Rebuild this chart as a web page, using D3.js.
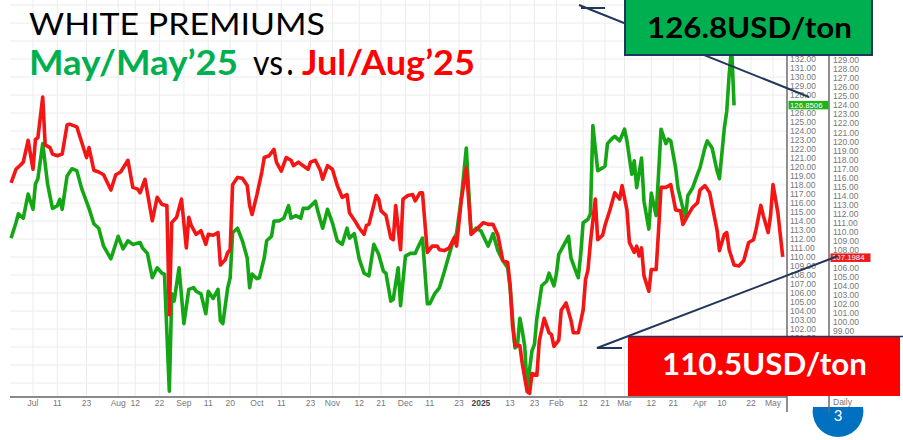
<!DOCTYPE html>
<html>
<head>
<meta charset="utf-8">
<script src="https://cdn.jsdelivr.net/npm/d3@7"></script>
<style>
  html, body { margin: 0; padding: 0; background: #fff; }
  svg { display: block; }
</style>
</head>
<body>
<svg id="chart" width="903" height="440"></svg>
<script>
// Green series: May/May'25 (left price column)
const greenDates = [
  "2024-06-22","2024-06-24","2024-06-25","2024-06-27","2024-06-29","2024-07-01","2024-07-02","2024-07-03","2024-07-05","2024-07-07",
  "2024-07-09","2024-07-11","2024-07-12","2024-07-13","2024-07-15","2024-07-17","2024-07-19","2024-07-21","2024-07-24","2024-07-26",
  "2024-07-28","2024-07-30","2024-08-02","2024-08-05","2024-08-07","2024-08-09","2024-08-11","2024-08-14","2024-08-15","2024-08-17",
  "2024-08-19","2024-08-21","2024-08-23","2024-08-24","2024-08-26","2024-08-27","2024-08-28","2024-08-30","2024-09-01","2024-09-03",
  "2024-09-05","2024-09-06","2024-09-08","2024-09-10","2024-09-11","2024-09-13","2024-09-15","2024-09-16","2024-09-17","2024-09-19",
  "2024-09-20","2024-09-21","2024-09-23","2024-09-25","2024-09-27","2024-09-28","2024-09-29","2024-10-01","2024-10-02","2024-10-04",
  "2024-10-05","2024-10-07","2024-10-08","2024-10-10","2024-10-12","2024-10-14","2024-10-15","2024-10-17","2024-10-19","2024-10-20",
  "2024-10-22","2024-10-24","2024-10-25","2024-10-26","2024-10-28","2024-10-30","2024-11-01","2024-11-03","2024-11-05","2024-11-07",
  "2024-11-08","2024-11-10","2024-11-12","2024-11-14","2024-11-16","2024-11-18","2024-11-20","2024-11-22","2024-11-23","2024-11-25",
  "2024-11-26","2024-11-28","2024-11-29","2024-12-01","2024-12-03","2024-12-05","2024-12-06","2024-12-08","2024-12-10","2024-12-11",
  "2024-12-13","2024-12-15","2024-12-17","2024-12-19","2024-12-21","2024-12-22","2024-12-24","2024-12-26","2024-12-28","2024-12-30",
  "2025-01-01","2025-01-04","2025-01-06","2025-01-08","2025-01-10","2025-01-12","2025-01-13","2025-01-15","2025-01-16","2025-01-17",
  "2025-01-18","2025-01-19","2025-01-20","2025-01-22","2025-01-23","2025-01-24","2025-01-26","2025-01-28","2025-01-29","2025-01-31",
  "2025-02-01","2025-02-02","2025-02-05","2025-02-06","2025-02-07","2025-02-09","2025-02-10","2025-02-11","2025-02-12","2025-02-14",
  "2025-02-15","2025-02-16","2025-02-18","2025-02-20","2025-02-21","2025-02-22","2025-02-24","2025-02-25","2025-02-27","2025-03-01",
  "2025-03-02","2025-03-04","2025-03-05","2025-03-06","2025-03-08","2025-03-09","2025-03-11","2025-03-12","2025-03-14","2025-03-15",
  "2025-03-16","2025-03-18","2025-03-19","2025-03-20","2025-03-22","2025-03-23","2025-03-25","2025-03-26","2025-03-27","2025-03-29",
  "2025-03-31","2025-04-01","2025-04-03","2025-04-04","2025-04-06","2025-04-08","2025-04-09","2025-04-11","2025-04-12","2025-04-13",
  "2025-04-14","2025-04-15"
];
const greenValues = [
  112.1,113.8,114.8,114.3,117.0,115.3,118.1,118.7,122.6,118.1,
  115.4,115.7,116.4,115.3,119.0,119.8,119.6,117.6,115.4,113.7,
  113.2,111.2,109.8,112.3,110.9,111.8,111.4,111.6,111.0,110.4,
  107.7,108.8,108.2,108.1,95.1,105.9,105.1,108.8,102.6,106.4,
  106.6,106.2,105.9,103.7,106.2,105.4,106.4,102.9,102.6,106.6,
  107.7,112.7,113.2,111.8,109.9,106.6,108.1,107.6,107.7,109.9,
  111.8,112.3,114.0,114.0,114.3,115.7,114.3,114.6,114.3,115.4,
  115.4,115.9,116.2,115.1,113.2,115.3,113.8,111.8,111.4,113.2,
  112.1,112.6,109.8,108.2,107.9,111.4,110.3,108.4,108.2,105.1,
  105.3,108.8,104.6,110.1,110.4,110.4,111.0,112.1,104.8,104.8,
  105.9,106.6,108.4,110.3,112.1,112.6,116.6,122.1,112.6,113.2,
  112.9,111.2,112.6,110.7,109.6,108.8,106.6,99.9,100.1,103.2,
  101.8,100.1,95.4,99.6,100.3,103.2,106.8,107.3,108.2,106.8,
  108.1,110.3,111.8,112.3,109.9,108.4,107.7,110.3,113.8,114.2,
  114.8,124.6,119.6,119.9,120.1,122.6,123.2,123.4,122.9,124.2,
  122.9,119.2,120.7,117.7,121.0,116.2,113.1,117.1,114.6,119.3,
  124.2,122.6,123.1,122.9,119.9,117.6,115.4,114.3,116.8,117.7,
  119.2,119.9,122.1,122.9,122.1,119.6,118.7,124.3,126.2,130.3,
  133.4,126.85
];

// Red series: Jul/Aug'25 (right price column)
const redDates = [
  "2024-06-22","2024-06-24","2024-06-26","2024-06-27","2024-06-29","2024-07-01","2024-07-02","2024-07-03","2024-07-05","2024-07-06",
  "2024-07-08","2024-07-09","2024-07-11","2024-07-13","2024-07-15","2024-07-16","2024-07-19","2024-07-21","2024-07-23","2024-07-24",
  "2024-07-26","2024-07-28","2024-07-30","2024-08-02","2024-08-04","2024-08-06","2024-08-09","2024-08-11","2024-08-13","2024-08-14",
  "2024-08-16","2024-08-17","2024-08-19","2024-08-21","2024-08-23","2024-08-25","2024-08-26","2024-08-27","2024-08-29","2024-08-31",
  "2024-09-02","2024-09-03","2024-09-04","2024-09-06","2024-09-08","2024-09-10","2024-09-11","2024-09-13","2024-09-15","2024-09-16",
  "2024-09-18","2024-09-19","2024-09-20","2024-09-21","2024-09-23","2024-09-25","2024-09-27","2024-09-28","2024-09-29","2024-10-01",
  "2024-10-03","2024-10-04","2024-10-06","2024-10-08","2024-10-09","2024-10-11","2024-10-13","2024-10-15","2024-10-16","2024-10-18",
  "2024-10-20","2024-10-22","2024-10-23","2024-10-25","2024-10-27","2024-10-28","2024-10-30","2024-11-01","2024-11-03","2024-11-05",
  "2024-11-07","2024-11-08","2024-11-10","2024-11-12","2024-11-14","2024-11-15","2024-11-16","2024-11-19","2024-11-20","2024-11-21",
  "2024-11-23","2024-11-25","2024-11-26","2024-11-27","2024-11-29","2024-11-30","2024-12-02","2024-12-04","2024-12-05","2024-12-07",
  "2024-12-08","2024-12-10","2024-12-12","2024-12-14","2024-12-15","2024-12-17","2024-12-19","2024-12-21","2024-12-22","2024-12-24",
  "2024-12-26","2024-12-28","2024-12-30","2025-01-02","2025-01-04","2025-01-06","2025-01-08","2025-01-10","2025-01-12","2025-01-13",
  "2025-01-14","2025-01-15","2025-01-17","2025-01-18","2025-01-20","2025-01-21","2025-01-22","2025-01-24","2025-01-25","2025-01-27",
  "2025-01-29","2025-01-30","2025-01-31","2025-02-02","2025-02-03","2025-02-05","2025-02-07","2025-02-08","2025-02-10","2025-02-12",
  "2025-02-13","2025-02-14","2025-02-15","2025-02-17","2025-02-18","2025-02-20","2025-02-21","2025-02-23","2025-02-25","2025-02-27",
  "2025-02-28","2025-03-02","2025-03-03","2025-03-05","2025-03-06","2025-03-07","2025-03-08","2025-03-09","2025-03-11","2025-03-12",
  "2025-03-14","2025-03-15","2025-03-16","2025-03-18","2025-03-20","2025-03-22","2025-03-24","2025-03-25","2025-03-27","2025-03-29",
  "2025-03-31","2025-04-01","2025-04-03","2025-04-05","2025-04-06","2025-04-08","2025-04-09","2025-04-11","2025-04-12","2025-04-13",
  "2025-04-15","2025-04-17","2025-04-19","2025-04-21","2025-04-23","2025-04-24","2025-04-26","2025-04-27","2025-04-29","2025-04-30",
  "2025-05-01","2025-05-03","2025-05-05"
];
const redValues = [
  115.4,116.9,117.4,117.7,120.1,116.9,120.2,120.4,124.9,119.6,
  119.3,118.6,118.4,118.6,121.8,121.9,121.6,119.9,118.2,119.3,
  116.8,116.6,116.3,114.6,116.3,116.6,117.9,114.9,114.7,114.3,
  115.8,114.3,111.2,113.8,113.0,112.9,100.8,111.0,111.6,113.6,
  108.2,111.6,110.7,109.7,110.1,108.6,109.7,109.6,109.9,106.3,
  106.9,107.7,108.0,115.2,116.0,115.9,115.1,112.9,111.9,114.1,
  116.6,118.2,118.4,119.1,117.7,116.7,118.2,117.9,117.3,117.7,
  117.3,116.9,117.7,117.9,116.8,115.8,117.3,116.9,115.1,113.8,
  114.1,112.1,111.3,110.4,109.7,110.7,110.8,114.0,113.6,112.3,
  111.8,109.3,109.1,112.9,108.0,113.6,114.0,114.1,113.4,114.3,
  114.3,107.7,108.4,108.4,108.0,107.9,108.2,109.3,108.4,113.6,
  117.1,109.7,110.2,111.0,110.8,110.8,109.6,106.8,106.6,104.1,
  99.6,97.4,97.4,95.4,92.3,92.1,94.3,94.1,97.9,100.4,
  98.8,98.6,97.3,98.0,101.3,102.1,100.2,98.8,98.8,101.3,
  104.7,105.8,108.8,113.6,109.1,109.6,110.7,112.4,114.3,113.6,
  115.1,112.4,108.8,107.7,108.4,107.3,108.2,105.1,103.4,105.8,
  105.8,110.2,114.9,114.9,115.2,112.4,112.3,110.8,111.8,112.7,
  113.2,114.6,115.1,114.3,112.9,110.2,107.9,109.7,109.9,108.0,
  106.3,106.2,106.8,108.8,109.1,110.2,112.9,111.8,109.9,111.8,
  115.2,112.1,107.2
];

// Bottom time axis
const tickDates = [
  "2024-07-01","2024-07-11","2024-07-23","2024-08-05","2024-08-12","2024-08-22","2024-09-01","2024-09-11","2024-09-20",
  "2024-10-01","2024-10-11","2024-10-23","2024-11-01","2024-11-12","2024-11-21","2024-12-01","2024-12-11","2024-12-23",
  "2025-01-01","2025-01-13","2025-01-23","2025-02-01","2025-02-12","2025-02-21","2025-03-01","2025-03-12","2025-03-21",
  "2025-04-01","2025-04-10","2025-04-22","2025-05-01"
];
const tickLabels = [
  "Jul","11","23","Aug","12","22","Sep","11","20",
  "Oct","11","23","Nov","12","21","Dec","11","23",
  "2025","13","23","Feb","12","21","Mar","12","21",
  "Apr","10","22","May"
];

// Price columns on the right (values hidden under the last-value tags are left out)
const greenAxisTicks = [101,102,103,104,105,106,107,108,109,110,111,112,113,114,115,116,117,118,119,120,121,122,123,124,125,126,128,129,130,131,132];
const redAxisTicks = [99,100,101,102,103,104,105,106,108,109,110,111,112,113,114,115,116,117,118,119,120,121,122,123,124,125,126,127,128,129];
const greenLast = 126.8506;
const redLast = 107.1984;
const greenCallout = "126.8USD/ton";
const redCallout = "110.5USD/ton";

const GREEN = '#15a615';
const RED = '#f41515';
const NAVY = '#22365c';

const parse = d3.timeParse('%Y-%m-%d');
const svg = d3.select('#chart');

const x = d3.scaleTime()
  .domain([parse('2024-07-01'), parse('2025-05-01')])
  .range([33, 773]);

const yG = d3.scaleLinear().domain([132, 102]).range([59, 329]);
const yR = d3.scaleLinear().domain([129, 99]).range([60, 331]);

const plotLeft = 10, plotRight = 787, plotBottom = 397;

svg.append('rect').attr('width', 903).attr('height', 440).attr('fill', '#fff');

// Grid lines
const grid = svg.append('g').attr('stroke', '#ececec').attr('stroke-width', 1);
grid.selectAll('.vgrid')
  .data(tickDates)
  .join('line')
  .attr('class', 'vgrid')
  .attr('x1', d => x(parse(d))).attr('x2', d => x(parse(d)))
  .attr('y1', 0).attr('y2', plotBottom);
grid.selectAll('.hgrid')
  .data(d3.range(96, 140, 2))
  .join('line')
  .attr('class', 'hgrid')
  .attr('x1', plotLeft).attr('x2', plotRight)
  .attr('y1', d => yG(d)).attr('y2', d => yG(d));

// Lines
const greenData = greenDates.map((d, i) => ({ date: parse(d), value: greenValues[i] }));
const redData = redDates.map((d, i) => ({ date: parse(d), value: redValues[i] }));

const greenLine = d3.line().x(d => x(d.date)).y(d => yG(d.value));
const redLine = d3.line().x(d => x(d.date)).y(d => yR(d.value));

svg.append('path')
  .datum(greenData)
  .attr('fill', 'none')
  .attr('stroke', GREEN)
  .attr('stroke-width', 3.6)
  .attr('stroke-linejoin', 'round')
  .attr('d', greenLine);

svg.append('path')
  .datum(redData)
  .attr('fill', 'none')
  .attr('stroke', RED)
  .attr('stroke-width', 3.6)
  .attr('stroke-linejoin', 'round')
  .attr('d', redLine);

// Bottom axis
svg.append('line')
  .attr('x1', plotLeft).attr('x2', plotRight)
  .attr('y1', plotBottom).attr('y2', plotBottom)
  .attr('stroke', '#8a8a8a').attr('stroke-width', 2);

svg.append('g')
  .selectAll('text')
  .data(tickDates)
  .join('text')
  .attr('x', d => x(parse(d)))
  .attr('y', 406)
  .attr('text-anchor', 'middle')
  .attr('font-family', 'Liberation Sans, Arial, sans-serif')
  .attr('font-size', 8.5)
  .attr('font-weight', (d, i) => tickLabels[i] === '2025' ? 'bold' : 'normal')
  .attr('fill', (d, i) => tickLabels[i] === '2025' ? '#444' : '#777')
  .text((d, i) => tickLabels[i]);

// Page number badge (partly hidden behind the chart image)
svg.append('circle').attr('cx', 838).attr('cy', 411.6).attr('r', 25.4).attr('fill', '#0070c0');
svg.append('rect').attr('x', 790).attr('y', 330).attr('width', 113).attr('height', 77).attr('fill', '#fff');
svg.append('text')
  .attr('x', 838).attr('y', 421)
  .attr('text-anchor', 'middle')
  .attr('font-family', 'Lato, Carlito, sans-serif')
  .attr('font-size', 15)
  .attr('fill', '#fff')
  .text('3');

// Right price columns
const axisG = svg.append('g')
  .attr('transform', `translate(${plotRight},0)`)
  .call(d3.axisRight(yG).tickValues(greenAxisTicks).tickSize(0).tickPadding(3).tickFormat(d3.format('.2f')));
const axisR = svg.append('g')
  .attr('transform', 'translate(829,0)')
  .call(d3.axisRight(yR).tickValues(redAxisTicks).tickSize(0).tickPadding(4).tickFormat(d3.format('.2f')));
[axisG, axisR].forEach(a => {
  a.select('.domain').remove();
  a.selectAll('text')
    .attr('font-family', 'Liberation Sans, Arial, sans-serif')
    .attr('font-size', 8.5)
    .attr('fill', '#777');
});

svg.append('g')
  .selectAll('line')
  .data([plotRight, 829])
  .join('line')
  .attr('x1', d => d).attr('x2', d => d)
  .attr('y1', 56).attr('y2', 412)
  .attr('stroke', '#6a6a6a').attr('stroke-width', 1.5);

svg.append('text')
  .attr('x', 833).attr('y', 405)
  .attr('font-family', 'Liberation Sans, Arial, sans-serif')
  .attr('font-size', 8.5)
  .attr('fill', '#777')
  .text('Daily');

// Last-value tags
svg.append('rect')
  .attr('x', 788.5).attr('y', yG(greenLast) - 4.5)
  .attr('width', 40).attr('height', 8.5)
  .attr('fill', '#20b020');
svg.append('text')
  .attr('x', 790).attr('y', yG(greenLast) + 2.3)
  .attr('font-family', 'Liberation Sans, Arial, sans-serif')
  .attr('font-size', 7.8).attr('fill', '#fff')
  .text(greenLast.toFixed(4));

svg.append('rect')
  .attr('x', 830.5).attr('y', yR(redLast) - 3.5)
  .attr('width', 40).attr('height', 8.5)
  .attr('fill', '#e81c1c');
svg.append('text')
  .attr('x', 832).attr('y', yR(redLast) + 3.5)
  .attr('font-family', 'Liberation Sans, Arial, sans-serif')
  .attr('font-size', 7.8).attr('fill', '#fff')
  .text(redLast.toFixed(4));

// Title
svg.append('text')
  .attr('x', 29).attr('y', 35)
  .attr('font-family', 'Lato, Carlito, sans-serif')
  .attr('font-size', 30)
  .attr('fill', '#000')
  .attr('textLength', 296).attr('lengthAdjust', 'spacingAndGlyphs')
  .text('WHITE PREMIUMS');

const sub = [
  { t: 'May/May\u201925', x: 29, w: 209, c: '#00b050', b: 'bold' },
  { t: 'vs', x: 253, w: 30, c: '#000', b: 'normal' },
  { t: '.', x: 287, w: 6, c: '#000', b: 'bold' },
  { t: 'Jul/Aug\u201925', x: 302, w: 173, c: '#ff0000', b: 'bold' }
];
svg.append('g')
  .selectAll('text')
  .data(sub)
  .join('text')
  .attr('x', d => d.x).attr('y', 75)
  .attr('font-family', 'Lato, Carlito, sans-serif')
  .attr('font-size', 34)
  .attr('font-weight', d => d.b)
  .attr('fill', d => d.c)
  .attr('textLength', d => d.w).attr('lengthAdjust', 'spacingAndGlyphs')
  .text(d => d.t);

// Connectors
const conn = svg.append('g').attr('stroke', NAVY).attr('stroke-width', 2).attr('fill', 'none');
conn.append('path').attr('d', 'M605,8 L581,8 M579,5 L809,97');
conn.append('path').attr('d', 'M622,348 L597,348 L838,256');

// Callouts
svg.append('rect')
  .attr('x', 625).attr('y', -2).attr('width', 247).attr('height', 57)
  .attr('fill', '#00b050').attr('stroke', NAVY).attr('stroke-width', 2);
svg.append('text')
  .attr('x', 647).attr('y', 38)
  .attr('font-family', 'Lato, Carlito, sans-serif')
  .attr('font-size', 29).attr('font-weight', 'bold').attr('fill', '#000')
  .attr('textLength', 205).attr('lengthAdjust', 'spacingAndGlyphs')
  .text(greenCallout);

svg.append('rect')
  .attr('x', 628).attr('y', 337).attr('width', 272).attr('height', 59)
  .attr('fill', '#ff0000');
svg.append('line')
  .attr('x1', 628).attr('x2', 903).attr('y1', 336.5).attr('y2', 336.5)
  .attr('stroke', NAVY).attr('stroke-width', 1.5);
svg.append('text')
  .attr('x', 662).attr('y', 375)
  .attr('font-family', 'Lato, Carlito, sans-serif')
  .attr('font-size', 30).attr('font-weight', 'bold').attr('fill', '#fff')
  .attr('textLength', 205).attr('lengthAdjust', 'spacingAndGlyphs')
  .text(redCallout);
</script>
</body>
</html>
